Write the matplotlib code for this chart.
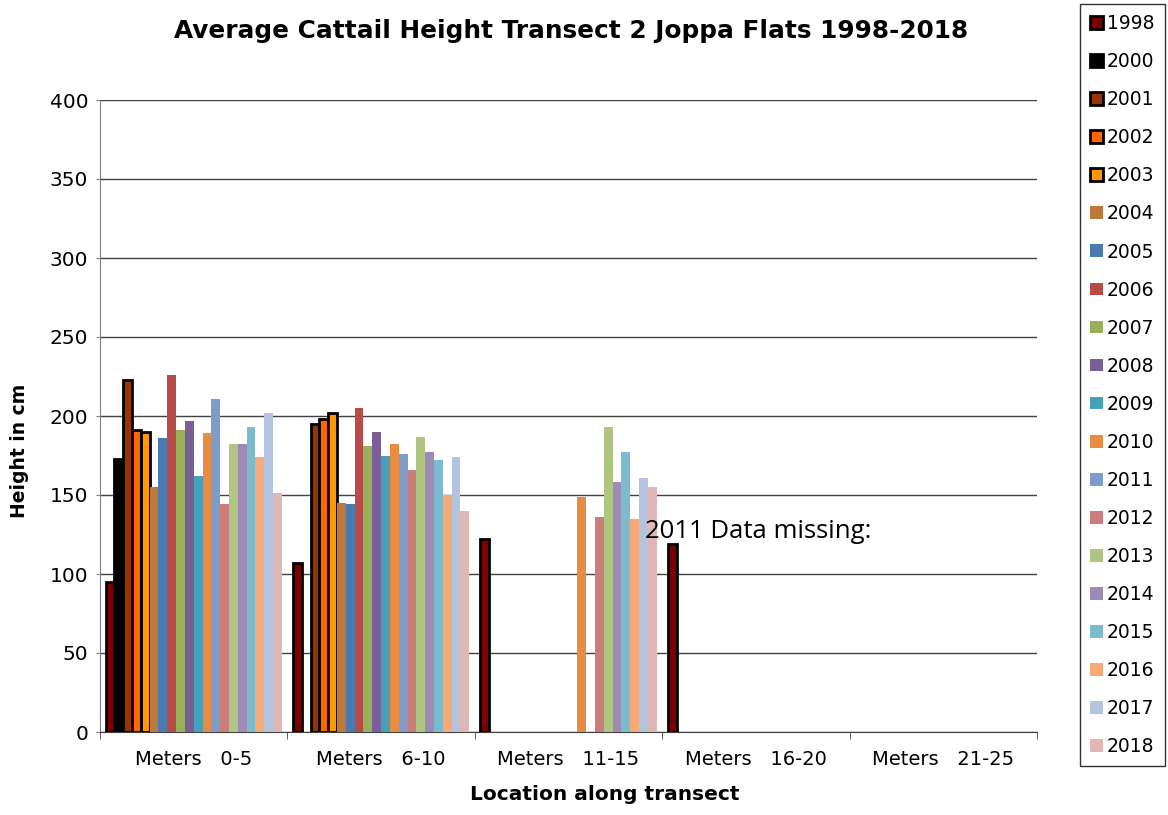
import numpy as np
import matplotlib
matplotlib.use("Agg")
import matplotlib.pyplot as plt
from matplotlib.patches import Patch

plt.rcParams['font.family'] = ['DejaVu Sans']

categories = ["Meters   0-5", "Meters   6-10", "Meters   11-15", "Meters   16-20", "Meters   21-25"]
years = ["1998", "2000", "2001", "2002", "2003", "2004", "2005", "2006", "2007", "2008",
         "2009", "2010", "2011", "2012", "2013", "2014", "2015", "2016", "2017", "2018"]
nan = np.nan
# values per year across the 5 locations (nan = no bar)
h1998 = [95, 107, 122, 119, nan]
h2000 = [173, nan, nan, nan, nan]
h2001 = [223, 195, nan, nan, nan]
h2002 = [191, 198, nan, nan, nan]
h2003 = [190, 202, nan, nan, nan]
h2004 = [155, 145, nan, nan, nan]
h2005 = [186, 144, nan, nan, nan]
h2006 = [226, 205, nan, nan, nan]
h2007 = [191, 181, nan, nan, nan]
h2008 = [197, 190, nan, nan, nan]
h2009 = [162, 175, nan, nan, nan]
h2010 = [189, 182, 149, nan, nan]
h2011 = [211, 176, nan, nan, nan]
h2012 = [144, 166, 136, nan, nan]
h2013 = [182, 187, 193, nan, nan]
h2014 = [182, 177, 158, nan, nan]
h2015 = [193, 172, 177, nan, nan]
h2016 = [174, 150, 135, nan, nan]
h2017 = [202, 174, 161, nan, nan]
h2018 = [151, 140, 155, nan, nan]

series = [h1998, h2000, h2001, h2002, h2003, h2004, h2005, h2006, h2007, h2008,
          h2009, h2010, h2011, h2012, h2013, h2014, h2015, h2016, h2017, h2018]
colors = ["#7B0000", "#000000", "#993300", "#FF6600", "#FF9900", "#C0773A", "#4A7AB0",
          "#B84A48", "#98B058", "#7A5E98", "#46A0B8", "#E88C44", "#7E9CC8", "#CC7C7A",
          "#AFC683", "#9E8AB6", "#7CBACE", "#F7A978", "#B5C4DE", "#DFB7B7"]
outlined = ["1998", "2000", "2001", "2002", "2003"]

W, H = 1168, 815
fig = plt.figure(figsize=(W/100, H/100), dpi=100)
ax = fig.add_axes([100/W, 1-732/H, 937/W, 632/H])

n = len(series)
group_w = 0.941
w = group_w / n
x = np.arange(len(categories))
for j, (yr, vals, c) in enumerate(zip(years, series, colors)):
    pos = x - group_w/2 + w*(j + 0.5)
    vals = np.array(vals, dtype=float)
    mask = ~np.isnan(vals)
    if yr in outlined:
        ax.bar(pos[mask], vals[mask], width=w, color=c, edgecolor='black', linewidth=2.0, zorder=3)
    else:
        ax.bar(pos[mask], vals[mask], width=w, color=c, edgecolor='none', zorder=3)

ax.set_xlim(-0.5, len(categories) - 0.5)
ax.set_ylim(0, 400)
ax.set_yticks(np.arange(0, 401, 50))
ax.tick_params(axis='y', labelsize=14.5, length=3, pad=5.5, direction='out', color='#808080')
ax.set_xticks(x)
ax.set_xticklabels(categories, fontsize=14)
ax.tick_params(axis='x', length=0, pad=13)
ax.set_xticks(np.arange(-0.5, len(categories) + 0.5, 1), minor=True)
ax.tick_params(axis='x', which='minor', length=5, direction='out', color='#404040')
ax.grid(axis='y', color='#404040', linewidth=1.0, zorder=0)
ax.set_axisbelow(True)
for s in ['top', 'right']:
    ax.spines[s].set_visible(False)
ax.spines['left'].set_color('#808080')
ax.spines['bottom'].set_color('#404040')

ax.set_ylabel("Height in cm", fontsize=13.5, fontweight='bold', va='center')
ax.yaxis.set_label_coords((20-100)/937, (732-451)/632)
ax.set_xlabel("Location along transect", fontsize=14.5, fontweight='bold', va='center')
ax.xaxis.set_label_coords((605-100)/937, (732-795)/632)

fig.text(571/W, 1-31/H, "Average Cattail Height Transect 2 Joppa Flats 1998-2018",
         ha='center', va='center', fontsize=17.8, fontweight='bold')

fig.text(645/W, 1-538/H, "2011 Data missing:", ha='left', va='baseline',
         fontsize=18.5, family=['Open Sans', 'DejaVu Sans'])

handles = []
for yr, c in zip(years, colors):
    if yr in outlined:
        handles.append(Patch(facecolor=c, edgecolor='black', linewidth=2.0))
    else:
        handles.append(Patch(facecolor=c, edgecolor='none'))
leg = fig.legend(handles, years, loc='upper left', bbox_to_anchor=(1080/W, 1-4/H),
                 fontsize=13.5, frameon=True, fancybox=False, edgecolor='black',
                 handlelength=0.68, handleheight=0.68, handletextpad=0.2,
                 labelspacing=1.015, borderpad=0.55, borderaxespad=0)
leg.get_frame().set_linewidth(1.0)

fig.savefig("out.png", dpi=100)
